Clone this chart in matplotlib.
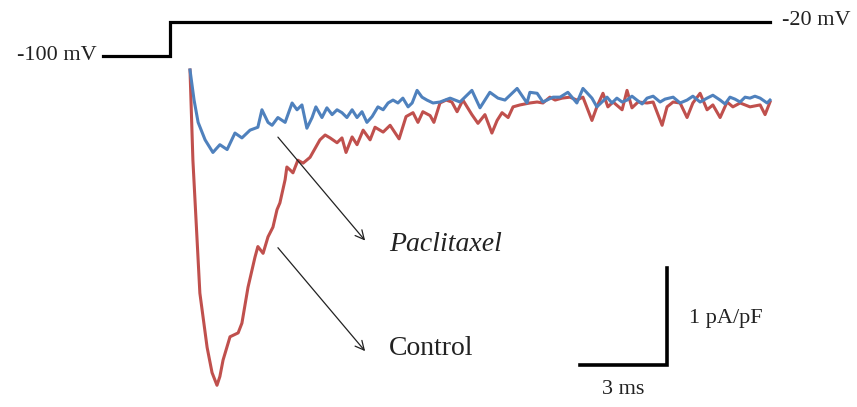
import matplotlib
matplotlib.use("Agg")
import matplotlib.pyplot as plt
import numpy as np

# control trace: time (ms), current density (pA/pF)
ctrl_t = [0.00, 0.10, 0.34, 0.59, 0.76, 0.93, 1.03, 1.14, 1.38, 1.66, 1.79, 2.00,
          2.24, 2.34, 2.52, 2.69, 2.86, 3.00, 3.10, 3.28, 3.34, 3.45, 3.55, 3.72,
          3.90, 4.14, 4.48, 4.66, 4.83, 5.07, 5.24, 5.38, 5.59, 5.76, 5.97, 6.21,
          6.38, 6.66, 6.90, 7.21, 7.45, 7.69, 7.86, 8.03, 8.28, 8.41, 8.62, 8.83,
          9.03, 9.21, 9.41, 9.72, 9.93, 10.17, 10.41, 10.59, 10.76, 10.97, 11.14,
          11.38, 11.72, 11.97, 12.17, 12.41, 12.59, 12.83, 13.10, 13.34, 13.55,
          13.86, 14.03, 14.24, 14.41, 14.59, 14.90, 15.07, 15.24, 15.45, 15.76,
          15.97, 16.28, 16.45, 16.66, 16.90, 17.14, 17.34, 17.59, 17.83, 18.03,
          18.28, 18.52, 18.72, 18.97, 19.31, 19.66, 19.83, 20.00]
ctrl_i = [0.00, -0.93, -2.30, -2.86, -3.12, -3.25, -3.16, -2.99, -2.75, -2.71, -2.61, -2.24,
          -1.93, -1.82, -1.89, -1.72, -1.62, -1.44, -1.37, -1.13, -1.00, -1.03, -1.06, -0.93,
          -0.96, -0.90, -0.72, -0.67, -0.70, -0.75, -0.70, -0.85, -0.69, -0.77, -0.62, -0.72,
          -0.59, -0.64, -0.57, -0.71, -0.48, -0.44, -0.54, -0.43, -0.47, -0.54, -0.34, -0.31,
          -0.33, -0.43, -0.31, -0.46, -0.55, -0.46, -0.65, -0.52, -0.44, -0.49, -0.38,
          -0.36, -0.34, -0.33, -0.34, -0.28, -0.31, -0.29, -0.28, -0.31, -0.28,
          -0.52, -0.38, -0.24, -0.38, -0.33, -0.41, -0.21, -0.39, -0.33, -0.34,
          -0.33, -0.57, -0.38, -0.33, -0.34, -0.49, -0.34, -0.24, -0.41, -0.36,
          -0.49, -0.33, -0.38, -0.34, -0.38, -0.36, -0.46, -0.33]

# paclitaxel trace
pac_t = [0.00, 0.14, 0.28, 0.52, 0.79, 1.03, 1.28, 1.55, 1.79, 2.07, 2.34, 2.48,
         2.69, 2.83, 3.03, 3.28, 3.52, 3.69, 3.86, 4.03, 4.21, 4.34, 4.55, 4.72,
         4.90, 5.07, 5.24, 5.41, 5.59, 5.76, 5.93, 6.10, 6.28, 6.48, 6.66, 6.83,
         7.00, 7.17, 7.34, 7.52, 7.66, 7.83, 8.00, 8.17, 8.38, 8.62, 8.97, 9.31,
         9.72, 10.00, 10.34, 10.62, 10.86, 11.28, 11.62, 11.72, 11.97, 12.17, 12.52,
         12.76, 13.03, 13.34, 13.55, 13.86, 14.03, 14.38, 14.55, 14.72, 14.90, 15.07,
         15.24, 15.41, 15.59, 15.76, 15.97, 16.21, 16.38, 16.66, 16.90, 17.14, 17.34,
         17.59, 17.83, 18.03, 18.28, 18.45, 18.62, 18.79, 18.97, 19.14, 19.31, 19.48,
         19.66, 19.90, 20.00]
pac_i = [0.00, -0.31, -0.54, -0.72, -0.85, -0.77, -0.82, -0.65, -0.70, -0.62, -0.59, -0.41,
         -0.54, -0.57, -0.49, -0.54, -0.34, -0.41, -0.36, -0.60, -0.49, -0.38, -0.49, -0.39,
         -0.46, -0.41, -0.44, -0.49, -0.41, -0.49, -0.43, -0.54, -0.48, -0.38, -0.41, -0.34,
         -0.31, -0.34, -0.29, -0.38, -0.34, -0.21, -0.28, -0.31, -0.34, -0.33, -0.29, -0.33,
         -0.21, -0.39, -0.23, -0.29, -0.31, -0.19, -0.34, -0.23, -0.24, -0.33, -0.28,
         -0.28, -0.23, -0.34, -0.19, -0.29, -0.38, -0.28, -0.34, -0.29, -0.33, -0.31,
         -0.27, -0.31, -0.35, -0.29, -0.27, -0.33, -0.30, -0.28, -0.34, -0.31, -0.27,
         -0.33, -0.29, -0.26, -0.31, -0.35, -0.28, -0.30, -0.33, -0.28, -0.29, -0.27,
         -0.29, -0.34, -0.31]

# voltage step protocol
prot_t = [-3.0, -0.69, -0.69, 20.0]
prot_v = [-100, -100, -20, -20]

plt.rcParams['font.family'] = ['Liberation Serif', 'DejaVu Serif']

fig = plt.figure(figsize=(8.57, 4.07), dpi=100)
ax = fig.add_axes([0, 0, 1, 1])
ax.set_xlim(-6.552, 23.0)
ax.set_ylim(-3.474, 0.7216)
ax.axis('off')

ax.plot(ctrl_t, ctrl_i, color='#c0504d', lw=2.2, solid_joinstyle='round')
ax.plot(pac_t, pac_i, color='#4f81bd', lw=2.2, solid_joinstyle='round')

# scale bars: 3 ms x 1 pA/pF
ax.plot([13.45, 16.45, 16.45], [-3.04, -3.04, -2.04], color='black', lw=2.6,
        solid_joinstyle='miter')
ax.text(17.2, -2.56, '1 pA/pF', fontsize=16, ha='left', va='center', color='#222222')
ax.text(14.95, -3.29, '3 ms', fontsize=16, ha='center', va='center', color='#222222')

# arrows and labels
ax.annotate('', xy=(6.10, -1.78), xytext=(2.97, -0.67),
            arrowprops=dict(arrowstyle='->', lw=0.9, color='#222222', mutation_scale=16))
ax.annotate('', xy=(6.10, -2.92), xytext=(2.97, -1.81),
            arrowprops=dict(arrowstyle='->', lw=0.9, color='#222222', mutation_scale=16))
ax.text(6.86, -1.80, 'Paclitaxel', fontsize=20, style='italic', ha='left', va='center',
        color='#222222')
ax.text(6.86, -2.87, 'Control', fontsize=20, ha='left', va='center', color='#222222')

# protocol drawn on its own mV scale
axv = fig.add_axes([0, 0, 1, 1], sharex=ax)
axv.set_ylim(-925.9, 31.76)
axv.axis('off')
axv.patch.set_alpha(0)
axv.plot(prot_t, prot_v, color='black', lw=2.3, solid_joinstyle='miter')
axv.text(-3.2, -100, '-100 mV', fontsize=16, ha='right', va='center', color='#222222')
axv.text(20.4, -17, '-20 mV', fontsize=16, ha='left', va='center', color='#222222')

fig.savefig('out.png', dpi=100)
